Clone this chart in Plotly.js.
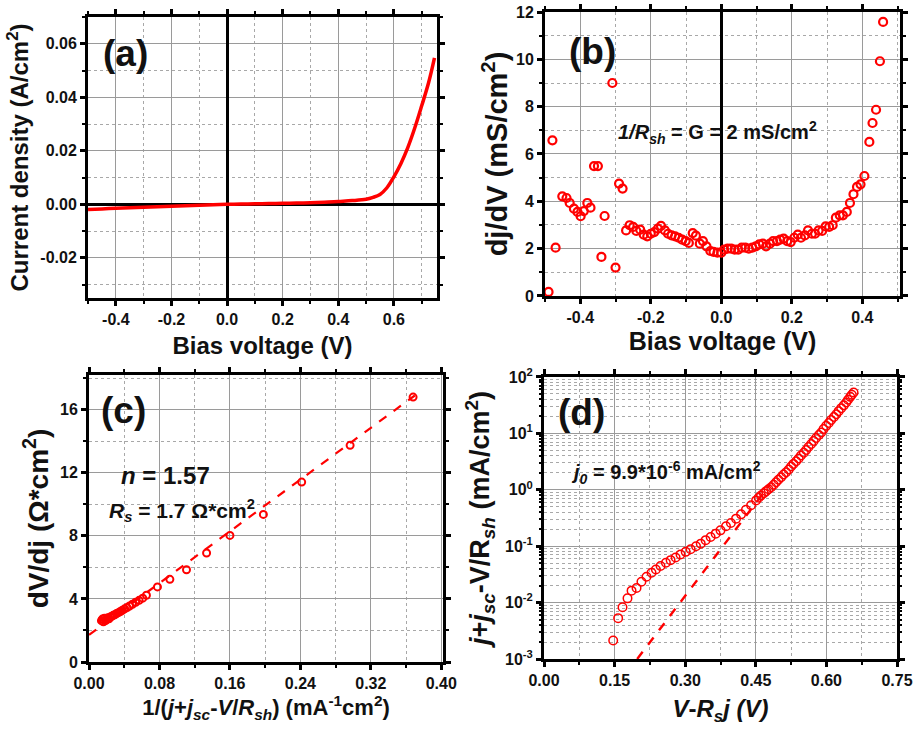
<!DOCTYPE html>
<html>
<head>
<meta charset="utf-8">
<script src="https://cdn.plot.ly/plotly-3.0.1.min.js"></script>
<style>
  html, body { margin: 0; padding: 0; background: #fff; }
  #chart { width: 914px; height: 729px; }
</style>
</head>
<body>
<div id="chart"></div>
<script>
// (a) current density vs bias voltage
const biasA = [-0.5, -0.45, -0.4, -0.35, -0.3, -0.25, -0.2, -0.15, -0.1, -0.05, 0, 0.05, 0.1, 0.15, 0.2, 0.25, 0.3, 0.35, 0.4, 0.45, 0.5, 0.525, 0.55, 0.575, 0.6, 0.625, 0.65, 0.675, 0.7, 0.725, 0.746];
const currentA = [-0.0019, -0.0017, -0.0015, -0.0013, -0.0011, -0.0009, -0.0007, -0.0005, -0.0003, -0.00015, 0, 0.0001, 0.0002, 0.0003, 0.0004, 0.0005, 0.0006, 0.0008, 0.0011, 0.0014, 0.0019, 0.0026, 0.0037, 0.0062, 0.0103, 0.0152, 0.0212, 0.0285, 0.0368, 0.0455, 0.0547];

// (b) differential conductance dj/dV
const biasB = [-0.49, -0.479, -0.47, -0.451, -0.439, -0.43, -0.418, -0.408, -0.399, -0.39, -0.38, -0.371, -0.361, -0.35, -0.34, -0.331, -0.309, -0.3, -0.29, -0.28, -0.27, -0.26, -0.25, -0.241, -0.23, -0.22, -0.21, -0.2, -0.19, -0.18, -0.171, -0.16, -0.151, -0.141, -0.131, -0.121, -0.111, -0.101, -0.092, -0.081, -0.072, -0.061, -0.052, -0.042, -0.031, -0.022, -0.011, 0, 0.008, 0.018, 0.028, 0.038, 0.048, 0.058, 0.068, 0.078, 0.088, 0.098, 0.108, 0.118, 0.127, 0.138, 0.147, 0.158, 0.167, 0.177, 0.187, 0.197, 0.207, 0.217, 0.226, 0.237, 0.246, 0.257, 0.266, 0.276, 0.286, 0.296, 0.306, 0.316, 0.325, 0.336, 0.345, 0.356, 0.365, 0.375, 0.385, 0.395, 0.406, 0.42, 0.429, 0.439, 0.45, 0.459];
const condB = [0.17, 6.58, 2.04, 4.21, 4.14, 3.93, 3.69, 3.55, 3.37, 3.59, 3.93, 3.73, 5.49, 5.49, 1.65, 3.38, 9.0, 1.2, 4.75, 4.54, 2.77, 2.99, 2.92, 2.75, 2.8, 2.59, 2.52, 2.63, 2.7, 2.85, 2.96, 2.77, 2.63, 2.56, 2.52, 2.46, 2.38, 2.32, 2.24, 2.66, 2.55, 2.21, 2.32, 2.1, 1.9, 1.86, 1.83, 1.83, 1.96, 2.0, 2.0, 1.96, 1.96, 2.04, 2.04, 2.0, 2.04, 2.1, 2.18, 2.21, 2.1, 2.21, 2.32, 2.32, 2.38, 2.42, 2.32, 2.28, 2.46, 2.59, 2.46, 2.56, 2.77, 2.63, 2.63, 2.77, 2.75, 2.94, 2.92, 2.99, 3.31, 3.41, 3.41, 3.55, 3.93, 4.3, 4.61, 4.72, 5.07, 6.51, 7.31, 7.87, 9.92, 11.58];

// (c) dV/dj vs 1/(j + jsc - V/Rsh)
const invJC = [0.0141, 0.0152, 0.0163, 0.0175, 0.0188, 0.0200, 0.0213, 0.0227, 0.0242, 0.0258, 0.0275, 0.0292, 0.0312, 0.0334, 0.0356, 0.0379, 0.0405, 0.0432, 0.0460, 0.0493, 0.0530, 0.0569, 0.0610, 0.0652, 0.0777, 0.0918, 0.1107, 0.1335, 0.160, 0.198, 0.2415, 0.2965, 0.368];
const dVdjC = [2.62, 2.72, 2.55, 2.78, 2.62, 2.70, 2.80, 2.74, 2.86, 2.90, 2.96, 3.00, 3.07, 3.13, 3.20, 3.28, 3.37, 3.45, 3.55, 3.66, 3.79, 3.91, 4.05, 4.23, 4.76, 5.24, 5.85, 6.91, 8.03, 9.36, 11.41, 13.74, 16.8];
const fitXC = [0, 0.37];
const fitYC = [1.72, 16.9];

// (d) corrected current vs V - Rs j
const vCorrD = [0.147, 0.1575, 0.1668, 0.1774, 0.186, 0.1966, 0.207, 0.2178, 0.2285, 0.2377, 0.2476, 0.259, 0.269, 0.2796, 0.290, 0.301, 0.3115, 0.323, 0.333, 0.3434, 0.354, 0.3647, 0.375, 0.3867, 0.397, 0.408, 0.4187, 0.429, 0.440, 0.4506, 0.456, 0.461, 0.467, 0.472, 0.477, 0.4825, 0.488, 0.493, 0.498, 0.5038, 0.509, 0.5144, 0.520, 0.525, 0.530, 0.5357, 0.541, 0.546, 0.552, 0.557, 0.562, 0.5677, 0.573, 0.578, 0.584, 0.589, 0.594, 0.5996, 0.605, 0.610, 0.616, 0.621, 0.626, 0.6315, 0.637, 0.642, 0.646, 0.6507, 0.654, 0.6578];
const jCorrD = [0.00213, 0.0053, 0.00828, 0.0119, 0.0163, 0.0182, 0.0234, 0.0288, 0.0339, 0.0387, 0.0444, 0.0508, 0.0566, 0.0631, 0.0713, 0.0794, 0.0885, 0.100, 0.111, 0.128, 0.146, 0.167, 0.191, 0.225, 0.258, 0.308, 0.367, 0.444, 0.530, 0.649, 0.724, 0.794, 0.871, 0.946, 1.02, 1.11, 1.23, 1.36, 1.51, 1.67, 1.86, 2.05, 2.29, 2.58, 2.88, 3.21, 3.59, 4.04, 4.52, 5.08, 5.75, 6.49, 7.33, 8.28, 9.33, 10.4, 11.9, 13.6, 15.3, 17.2, 19.5, 21.9, 24.8, 28.0, 31.4, 35.2, 39.5, 44.4, 48.4, 53.0];
const fitXD = [0.198, 0.48];
const fitYD = [0.001, 1.25];

// tick labels
const tickValsA_x = [-0.4, -0.2, 0, 0.2, 0.4, 0.6];
const tickTextA_x = ['-0.4', '-0.2', '0.0', '0.2', '0.4', '0.6'];
const tickValsA_y = [-0.02, 0, 0.02, 0.04, 0.06];
const tickTextA_y = ['-0.02', '0.00', '0.02', '0.04', '0.06'];
const tickValsB_x = [-0.4, -0.2, 0, 0.2, 0.4];
const tickTextB_x = ['-0.4', '-0.2', '0.0', '0.2', '0.4'];
const tickValsD_y = [0.001, 0.01, 0.1, 1, 10, 100];
const tickTextD_y = ['10<sup>-3</sup>', '10<sup>-2</sup>', '10<sup>-1</sup>', '10<sup>0</sup>', '10<sup>1</sup>', '10<sup>2</sup>'];

const FONT = '"Liberation Sans", Arial, sans-serif';
const INK = '#111';
const RED = '#ff0000';

const MINOR_BASE = {
  ticks: 'outside', ticklen: 3, tickwidth: 2, tickcolor: '#000',
  showgrid: true, gridcolor: '#a8a8a8', griddash: 'dot', gridwidth: 1
};

function axis(extra) {
  const out = Object.assign({
    showline: true, linecolor: '#000', linewidth: 3, mirror: 'ticks',
    ticks: 'outside', ticklen: 5, tickwidth: 3, tickcolor: '#000',
    showgrid: true, gridcolor: '#9a9a9a', gridwidth: 1,
    zeroline: false,
    tickfont: { family: FONT, size: 16, color: INK, weight: 'bold' }
  }, extra);
  out.minor = Object.assign({}, MINOR_BASE, extra.minor || {});
  return out;
}
function ttl(text, size, standoff) {
  return { text: text, standoff: standoff, font: { family: FONT, size: size, color: INK, weight: 'bold' } };
}

const traces = [
  { x: biasA, y: currentA, xaxis: 'x', yaxis: 'y', type: 'scatter', mode: 'lines',
    line: { color: RED, width: 3.5, shape: 'spline', smoothing: 1 }, showlegend: false },
  { x: biasB, y: condB, xaxis: 'x2', yaxis: 'y2', type: 'scatter', mode: 'markers',
    marker: { symbol: 'circle-open', size: 8, color: RED, line: { width: 2.2, color: RED } }, showlegend: false },
  { x: fitXC, y: fitYC, xaxis: 'x3', yaxis: 'y3', type: 'scatter', mode: 'lines',
    line: { color: RED, width: 2.2, dash: 'dash' }, showlegend: false },
  { x: invJC, y: dVdjC, xaxis: 'x3', yaxis: 'y3', type: 'scatter', mode: 'markers',
    marker: { symbol: 'circle-open', size: 7, color: RED, line: { width: 2, color: RED } }, showlegend: false },
  { x: fitXD, y: fitYD, xaxis: 'x4', yaxis: 'y4', type: 'scatter', mode: 'lines',
    line: { color: RED, width: 2.4, dash: 'dash' }, showlegend: false },
  { x: vCorrD, y: jCorrD, xaxis: 'x4', yaxis: 'y4', type: 'scatter', mode: 'markers',
    marker: { symbol: 'circle-open', size: 8.5, color: RED, line: { width: 1.5, color: RED } }, showlegend: false }
];

function label(text, x, y, size) {
  return { text: text, xref: 'paper', yref: 'paper', x: x, y: y, xanchor: 'center', yanchor: 'middle',
           showarrow: false, font: { family: FONT, size: size, color: INK, weight: 'bold' } };
}

const layout = {
  width: 914, height: 729,
  margin: { l: 0, r: 0, t: 0, b: 0 },
  paper_bgcolor: '#fff', plot_bgcolor: '#fff',
  font: { family: FONT, color: INK },
  xaxis: axis({ domain: [0.0963, 0.4781], anchor: 'y', range: [-0.5, 0.755],
    tickmode: 'array', tickvals: tickValsA_x, ticktext: tickTextA_x,
    minor: { tick0: 0, dtick: 0.1 },
    zeroline: true, zerolinecolor: '#000', zerolinewidth: 3,
    title: ttl('Bias voltage (V)', 24, 10) }),
  yaxis: axis({ domain: [0.5912, 0.9767], anchor: 'x', range: [-0.035, 0.07],
    tickmode: 'array', tickvals: tickValsA_y, ticktext: tickTextA_y,
    minor: { tick0: 0, dtick: 0.01 },
    zeroline: true, zerolinecolor: '#000', zerolinewidth: 3,
    title: ttl('Current density (A/cm<sup>2</sup>)', 24, 5) }),
  xaxis2: axis({ domain: [0.5963, 0.9847], anchor: 'y2', range: [-0.5, 0.507],
    tickmode: 'array', tickvals: tickValsB_x, ticktext: tickTextB_x,
    minor: { tick0: 0, dtick: 0.1 },
    zeroline: true, zerolinecolor: '#000', zerolinewidth: 3,
    title: ttl('Bias voltage (V)', 25, 8) }),
  yaxis2: axis({ domain: [0.5940, 0.9835], anchor: 'x2', range: [0, 12],
    tickmode: 'linear', tick0: 0, dtick: 2,
    minor: { tick0: 0, dtick: 1 },
    title: ttl('dj/dV (mS/cm<sup>2</sup>)', 29, 0) }),
  xaxis3: axis({ domain: [0.0974, 0.4847], anchor: 'y3', range: [0, 0.402],
    tickmode: 'linear', tick0: 0, dtick: 0.08, tickformat: '.2f',
    minor: { tick0: 0, dtick: 0.04 },
    title: ttl('1/(<i>j</i>+<i>j<sub>sc</sub></i>-<i>V</i>/<i>R<sub>sh</sub></i>) (mA<sup>-1</sup>cm<sup>2</sup>)', 22, 7) }),
  yaxis3: axis({ domain: [0.0919, 0.4856], anchor: 'x3', range: [0, 18.2],
    tickmode: 'linear', tick0: 0, dtick: 4,
    minor: { tick0: 0, dtick: 2 },
    title: ttl('dV/dj (\u03A9*cm<sup>2</sup>)', 28, 4) }),
  xaxis4: axis({ domain: [0.5952, 0.9814], anchor: 'y4', range: [0, 0.75],
    tickmode: 'linear', tick0: 0, dtick: 0.15, tickformat: '.2f',
    minor: { tick0: 0, dtick: 0.075 },
    title: ttl('<i>V</i>-<i>R<sub>s</sub>j</i> <i>(V)</i>', 24, 12) }),
  yaxis4: axis({ domain: [0.0960, 0.4829], anchor: 'x4', type: 'log', range: [-3, 2],
    tickmode: 'array', tickvals: tickValsD_y, ticktext: tickTextD_y,
    minor: { dtick: 'D1', ticklen: 2 },
    title: ttl('<i>j</i>+<i>j<sub>sc</sub></i>-V/R<sub><i>sh</i></sub> (mA/cm<sup>2</sup>)', 27, 8) }),
  annotations: [
    label('(a)', 0.1368, 0.9265, 37),
    label('(b)', 0.6482, 0.9300, 37),
    label('(c)', 0.1346, 0.4370, 37),
    label('(d)', 0.6357, 0.4340, 37),
    label('<i>1/R<sub>sh</sub></i> = G = 2 mS/cm<sup>2</sup>', 0.7845, 0.8176, 20),
    label('<i>n</i> = 1.57', 0.1816, 0.3484, 24),
    label('<i>R<sub>s</sub></i> = 1.7 \u03A9*cm<sup>2</sup>', 0.1991, 0.3004, 21),
    label('<i>j<sub>0</sub></i> = 9.9*10<sup>-6</sup> mA/cm<sup>2</sup>', 0.7287, 0.3512, 20)
  ]
};

Plotly.newPlot('chart', traces, layout, { displayModeBar: false, staticPlot: true });
</script>
</body>
</html>
